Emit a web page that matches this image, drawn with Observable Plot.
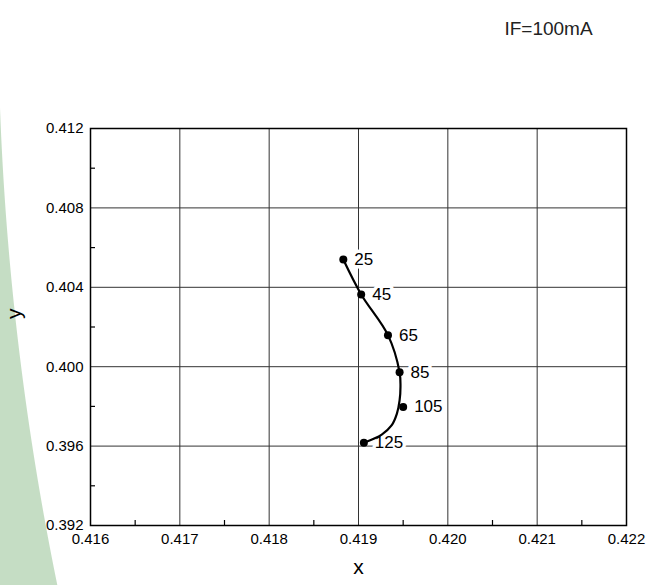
<!DOCTYPE html>
<html>
<head>
<meta charset="utf-8">
<script src="https://cdn.jsdelivr.net/npm/d3@7"></script>
<script src="https://cdn.jsdelivr.net/npm/@observablehq/plot@0.6"></script>
<style>
  html, body { margin: 0; padding: 0; }
  body {
    width: 647px; height: 585px; overflow: hidden;
    background: radial-gradient(circle 2915px at 2913px 0px, #ffffff 2914.5px, #c5ddc4 2915.5px);
  }
  #chart svg { display: block; }
</style>
</head>
<body>
<div id="chart"></div>
<script>
// ---- data ----
const temps = [25, 45, 65, 85, 105, 125];
const ptX = [0.41883, 0.41903, 0.41933, 0.41946, 0.41950, 0.41906];
const ptY = [0.40540, 0.40364, 0.40159, 0.39972, 0.39797, 0.39617];
// fitted curve drawn through the chromaticity points
const fitX = [0.41883, 0.41903, 0.41933, 0.41946, 0.41947, 0.41946, 0.41943, 0.41937, 0.41926, 0.41906];
const fitY = [0.40540, 0.40364, 0.40159, 0.39972, 0.39900, 0.39830, 0.39764, 0.39704, 0.39658, 0.39617];
const xTicks = [0.416, 0.417, 0.418, 0.419, 0.420, 0.421, 0.422];
const yTicks = [0.392, 0.396, 0.400, 0.404, 0.408, 0.412];
const xMinor = [0.4165, 0.4175, 0.4185, 0.4195, 0.4205, 0.4215];
const yMinor = [0.394, 0.398, 0.402, 0.406, 0.410];
const xLabel = "x";
const yLabel = "y";
const note = "IF=100mA";

const pts = temps.map((t, i) => ({t, x: ptX[i], y: ptY[i]}));
const fit = fitX.map((x, i) => ({x, y: fitY[i]}));

const W = 647, H = 585, ML = 90, MR = 21, MT = 128, MB = 60;
const PW = W - ML - MR, PH = H - MT - MB;
const fmt = d3.format(".3f");
const font = "'Liberation Sans', Arial, Helvetica, sans-serif";

const chart = Plot.plot({
  width: W, height: H,
  marginLeft: ML, marginRight: MR, marginTop: MT, marginBottom: MB,
  style: {fontFamily: font, fontSize: "15px", color: "#000", background: "transparent", overflow: "visible"},
  x: {domain: [0.416, 0.422]},
  y: {domain: [0.392, 0.412]},
  marks: [
    Plot.gridX(xTicks, {stroke: "#333", strokeOpacity: 1, strokeWidth: 1}),
    Plot.gridY(yTicks, {stroke: "#333", strokeOpacity: 1, strokeWidth: 1}),
    Plot.tickX(xMinor, {x: d => d, insetTop: PH - 5, stroke: "#000", strokeWidth: 1.2}),
    Plot.tickY(yMinor, {y: d => d, insetRight: PW - 5, stroke: "#000", strokeWidth: 1.2}),
    Plot.axisX(xTicks, {tickSize: 0, tickPadding: 8, tickFormat: fmt, label: null, fontSize: 15, fill: "#000"}),
    Plot.axisY(yTicks, {tickSize: 0, tickPadding: 7, tickFormat: fmt, label: null, fontSize: 15, fill: "#000"}),
    Plot.text(pts, {x: "x", y: "y", text: d => String(d.t), dx: 11, textAnchor: "start",
      fontSize: 17, fill: "#000", stroke: "white", strokeWidth: 7, paintOrder: "stroke"}),
    Plot.line(fit, {x: "x", y: "y", curve: "catmull-rom", stroke: "#000", strokeWidth: 2.2}),
    Plot.dot(pts, {x: "x", y: "y", r: 4, fill: "#000", stroke: "none"}),
    Plot.frame({stroke: "#000", strokeWidth: 1.5}),
    Plot.text([yLabel], {frameAnchor: "left", dx: -76, dy: -8, rotate: -90, fontSize: 21, fill: "#000"}),
    Plot.text([xLabel], {frameAnchor: "bottom", dy: 48, fontSize: 21, fill: "#000"}),
    Plot.text([note], {frameAnchor: "top", dx: 190, dy: -107, fontSize: 19, fill: "#222", letterSpacing: "0.5px"})
  ]
});
document.getElementById("chart").append(chart);
</script>
</body>
</html>
